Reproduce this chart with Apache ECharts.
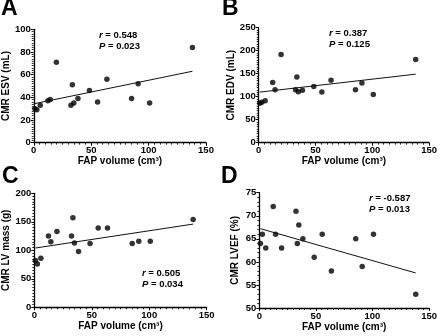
<!DOCTYPE html>
<html><head><meta charset="utf-8">
<script src="https://cdn.jsdelivr.net/npm/echarts@6/dist/echarts.min.js"></script>
<style>html,body{margin:0;padding:0;background:#fff}#c{width:440px;height:336px}</style>
</head><body><div id="c"></div>
<script>
// FAP volume (cm³), shared x for all panels
const fapVolume = [1, 2.7, 5.7, 12.3, 14.4, 19.7, 32.4, 33.6, 34.9, 38.5, 48.5, 55.6, 63.7, 85.2, 90.9, 100.9, 138.2];
const esv    = [30, 29, 33, 37, 38, 71, 33, 51, 35, 39, 46, 36, 56, 39, 52, 35, 84];
const edv    = [86, 88, 91, 131, 115, 192, 115, 143, 111, 114, 122, 110, 136, 115, 130, 105, 181];
const lvMass = [82, 76, 86, 125, 115, 133, 125, 157, 113, 98, 112, 139, 139, 112, 116, 116, 154];
const lvef   = [64, 66, 63, 72, 66, 63, 71, 64, 68, 65, 61, 66, 58, 65, 59, 66, 53];
// regression line endpoints [x0,y0],[x1,y1]
const fitA = [[1, 34.5], [138.2, 63]];
const fitB = [[1, 110], [138.2, 149]];
const fitC = [[1, 104], [138.2, 146]];
const fitD = [[1, 67.2], [138.2, 57.6]];
const letters = ['A', 'B', 'C', 'D'];
const yNames = ['CMR ESV (mL)', 'CMR EDV (mL)', 'CMR LV mass (g)', 'CMR LVEF (%)'];
const xName = 'FAP volume (cm³)';
const rValues = ['0.548', '0.387', '0.505', '-0.587'];
const pValues = ['0.023', '0.125', '0.034', '0.013'];
const yRanges = [[0, 100, 20, 10], [0, 250, 50, 10], [0, 200, 50, 10], [50, 75, 5, 5]];

const FONT = 'Liberation Sans, Arial, sans-serif';
const grids = [
  {left: 33.3, top: 29.3, width: 172.7, height: 113.4},
  {left: 258.7, top: 27.7, width: 170.6, height: 115},
  {left: 34.3, top: 193.3, width: 172.4, height: 114},
  {left: 259.3, top: 192.7, width: 170, height: 115.3}
];
const ys = [esv, edv, lvMass, lvef];
const fits = [fitA, fitB, fitC, fitD];
const letterPos = [[1, -3], [222, -3], [2, 165], [221, 165]];
const annPos = [[99, 30], [329, 28], [142, 268], [369, 192.5]];

const axisCommon = {
  axisLine: {show: true, onZero: false, lineStyle: {color: '#000', width: 1.3}},
  axisTick: {show: true, inside: false, length: 3, lineStyle: {color: '#000', width: 1}},
  minorTick: {show: true, length: 2, lineStyle: {color: '#000', width: 0.8}},
  splitLine: {show: false},
  axisLabel: {color: '#000', fontWeight: 'bold', fontSize: 9.5, fontFamily: FONT},
  nameTextStyle: {color: '#000', fontWeight: 'bold', fontSize: 10, fontFamily: FONT}
};

const xAxis = [], yAxis = [], series = [], graphic = [];
for (let i = 0; i < 4; i++) {
  xAxis.push(Object.assign({}, axisCommon, {
    gridIndex: i, type: 'value', min: 0, max: 150, interval: 50,
    name: xName, nameLocation: 'middle', nameGap: 11,
    minorTick: Object.assign({}, axisCommon.minorTick, {splitNumber: 10}),
    axisLabel: Object.assign({}, axisCommon.axisLabel, {margin: 3})
  }));
  const r = yRanges[i];
  yAxis.push(Object.assign({}, axisCommon, {
    gridIndex: i, type: 'value', min: r[0], max: r[1], interval: r[2],
    name: yNames[i], nameLocation: 'middle', nameGap: 19,
    minorTick: Object.assign({}, axisCommon.minorTick, {splitNumber: r[3]}),
    axisLabel: Object.assign({}, axisCommon.axisLabel, {margin: 3})
  }));
  series.push({
    type: 'scatter', xAxisIndex: i, yAxisIndex: i, symbolSize: 5.5,
    itemStyle: {color: '#000'}, silent: true,
    data: fapVolume.map((x, k) => [x, ys[i][k]])
  });
  series.push({
    type: 'line', xAxisIndex: i, yAxisIndex: i, symbol: 'none', silent: true,
    lineStyle: {color: '#111', width: 1}, data: fits[i]
  });
  graphic.push({
    type: 'text', left: letterPos[i][0], top: letterPos[i][1],
    style: {text: letters[i], font: 'bold 23px ' + FONT, fill: '#000'}
  });
  graphic.push({
    type: 'text', left: annPos[i][0], top: annPos[i][1],
    style: {
      text: '{i|r} = ' + rValues[i] + '\n{i|P} = ' + pValues[i],
      font: 'bold 9.5px ' + FONT, fill: '#000', lineHeight: 11,
      rich: {i: {fontStyle: 'italic', fontWeight: 'bold', fontSize: 9.5, fontFamily: FONT, fill: '#000'}}
    }
  });
}

const chart = echarts.init(document.getElementById('c'), null, {renderer: 'canvas'});
chart.setOption({
  animation: false, backgroundColor: '#fff',
  grid: grids, xAxis: xAxis, yAxis: yAxis, series: series, graphic: graphic
});
</script></body></html>
